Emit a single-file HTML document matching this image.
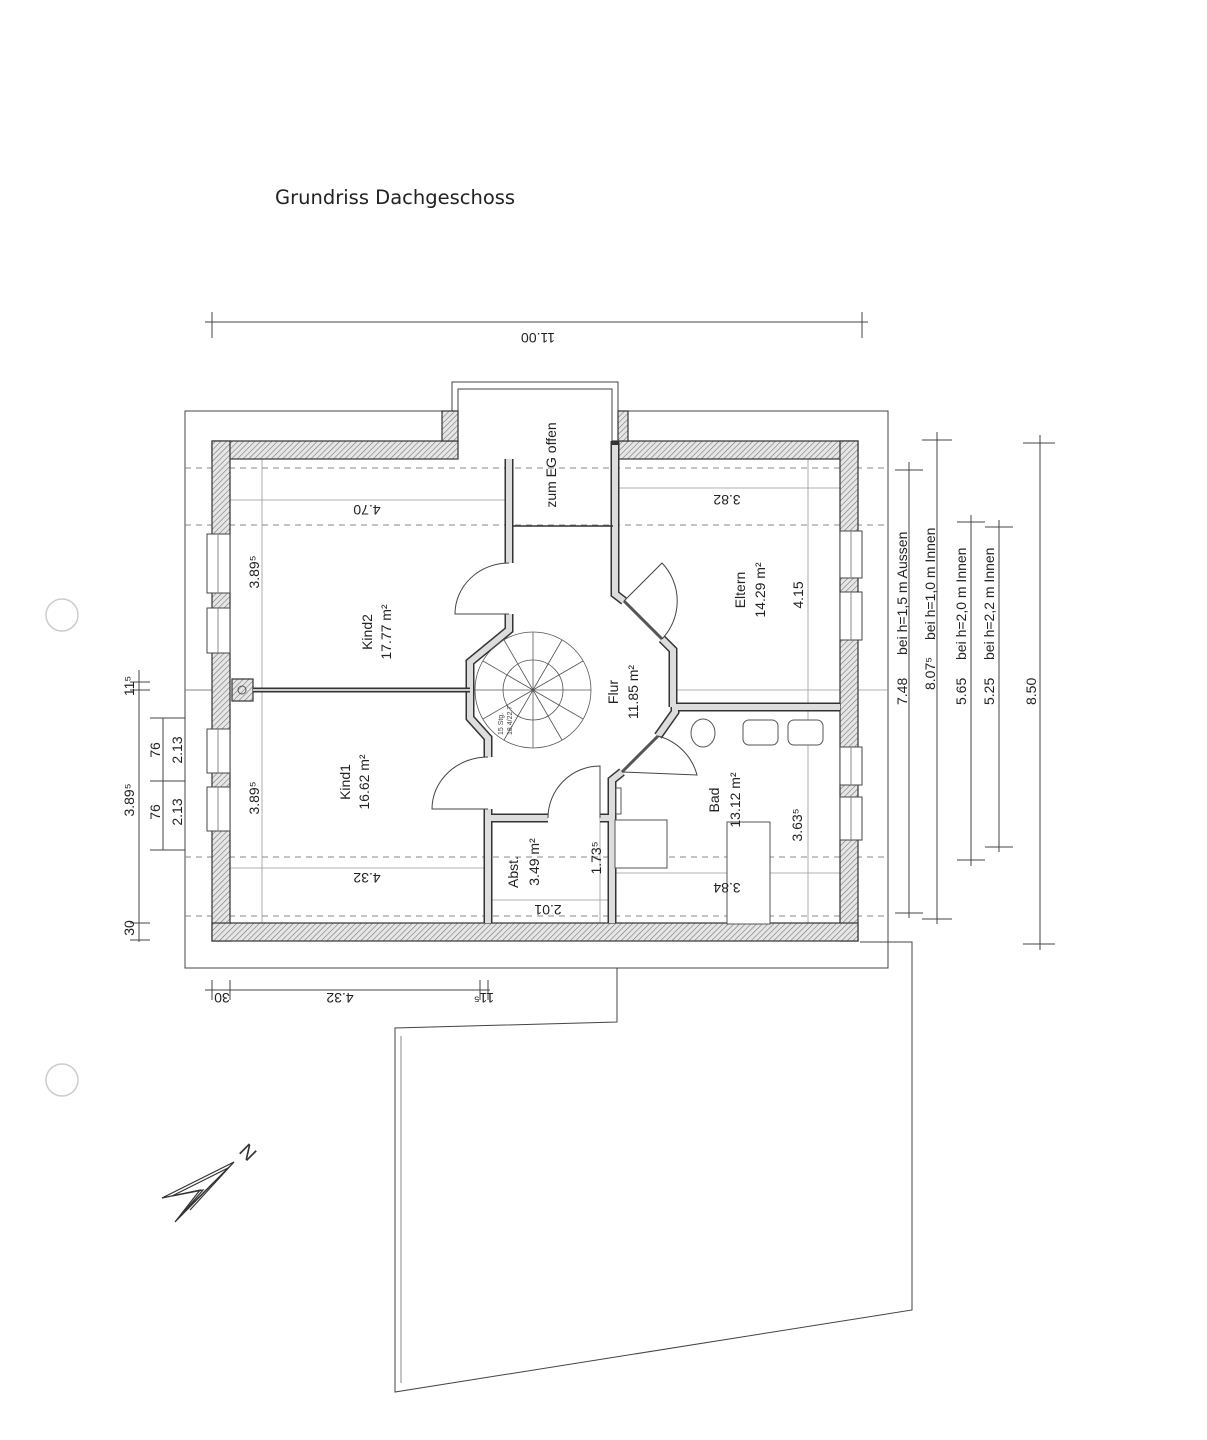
<!DOCTYPE html>
<html><head><meta charset="utf-8"><style>
html,body{margin:0;padding:0;background:#fff;}
svg{display:block;font-family:"Liberation Sans",Arial,sans-serif;}
</style></head><body>
<svg width="1207" height="1440" viewBox="0 0 1207 1440" xmlns="http://www.w3.org/2000/svg">
<defs>
<pattern id="h" width="4" height="4" patternUnits="userSpaceOnUse" patternTransform="rotate(45)">
<rect width="4" height="4" fill="#e6e6e6"/><line x1="0" y1="0" x2="0" y2="4" stroke="#777" stroke-width="1.2"/></pattern>
</defs>
<text x="275" y="204" font-family="DejaVu Sans,sans-serif" font-size="19.5" fill="#222">Grundriss Dachgeschoss</text>
<circle cx="62" cy="615" r="16" fill="none" stroke="#ccc" stroke-width="1.5"/>
<circle cx="62" cy="1080" r="16" fill="none" stroke="#ccc" stroke-width="1.5"/>

<g stroke="#444" stroke-width="1" fill="none">
<line x1="205" y1="322" x2="868" y2="322"/>
<line x1="212" y1="312" x2="212" y2="338"/><line x1="862" y1="312" x2="862" y2="338"/>
<polyline points="442,411 185,411 185,968 888,968 888,411 628,411"/>
<polyline points="452,411 452,382 618,382 618,411"/>
<polyline points="458,411 458,389 612,389 612,441"/>
<polyline points="617,968 617,1022 395,1028 395,1392 912,1310 912,942 860,942"/>
<polyline points="401,1036 401,1383" stroke="#888"/>
<line x1="139" y1="670" x2="139" y2="942"/>
<line x1="130" y1="682" x2="150" y2="682"/><line x1="130" y1="690" x2="150" y2="690"/>
<line x1="130" y1="923" x2="150" y2="923"/><line x1="130" y1="940" x2="150" y2="940"/>
<line x1="163" y1="718" x2="163" y2="850"/>
<line x1="150" y1="718" x2="185" y2="718"/><line x1="150" y1="781" x2="185" y2="781"/><line x1="150" y1="850" x2="185" y2="850"/>
<line x1="185" y1="690" x2="212" y2="690"/>
<line x1="205" y1="990" x2="490" y2="990"/>
<line x1="212" y1="980" x2="212" y2="1000"/><line x1="230" y1="980" x2="230" y2="1000"/>
<line x1="480" y1="980" x2="480" y2="1000"/><line x1="488" y1="980" x2="488" y2="1000"/>
<line x1="909" y1="462" x2="909" y2="918"/><line x1="895" y1="470" x2="923" y2="470"/><line x1="895" y1="913" x2="923" y2="913"/>
<line x1="937" y1="432" x2="937" y2="924"/><line x1="922" y1="440" x2="952" y2="440"/><line x1="922" y1="919" x2="952" y2="919"/>
<line x1="971" y1="515" x2="971" y2="866"/><line x1="957" y1="522" x2="985" y2="522"/><line x1="957" y1="860" x2="985" y2="860"/>
<line x1="999" y1="520" x2="999" y2="852"/><line x1="985" y1="527" x2="1013" y2="527"/><line x1="985" y1="847" x2="1013" y2="847"/>
<line x1="1040" y1="435" x2="1040" y2="950"/><line x1="1023" y1="443" x2="1055" y2="443"/><line x1="1023" y1="944" x2="1055" y2="944"/>
</g>
<g stroke="#888" stroke-width="1" stroke-dasharray="6,5" fill="none">
<line x1="185" y1="468" x2="888" y2="468"/>
<line x1="185" y1="525" x2="888" y2="525"/>
<line x1="185" y1="857" x2="888" y2="857"/>
<line x1="185" y1="916" x2="888" y2="916"/>
</g>
<g stroke="#999" stroke-width="0.8" fill="none">
<line x1="230" y1="500" x2="509" y2="500"/>
<line x1="618" y1="488" x2="840" y2="488"/>
<line x1="230" y1="868" x2="488" y2="868"/>
<line x1="615" y1="873" x2="840" y2="873"/>
<line x1="262" y1="459" x2="262" y2="923"/>
<line x1="808" y1="459" x2="808" y2="923"/>
<line x1="600" y1="818" x2="600" y2="923"/>
<line x1="488" y1="900" x2="612" y2="900"/>
<line x1="185" y1="690" x2="230" y2="690"/>
<line x1="675" y1="690" x2="888" y2="690"/>
</g>
<g fill="url(#h)" stroke="#333" stroke-width="1.2">
<rect x="212" y="441" width="246" height="18"/>
<rect x="442" y="411" width="16" height="30"/>
<rect x="612" y="441" width="246" height="18"/>
<rect x="618" y="411" width="10" height="30"/>
<rect x="212" y="441" width="18" height="500"/>
<rect x="840" y="441" width="18" height="500"/>
<rect x="212" y="923" width="646" height="18"/>
<rect x="232" y="679" width="21" height="22"/>
</g>
<circle cx="242" cy="690" r="4" fill="none" stroke="#555"/>
<g fill="#fff" stroke="#444" stroke-width="1">
<rect x="207" y="534" width="23" height="59"/><rect x="207" y="608" width="23" height="45"/>
<rect x="207" y="729" width="23" height="44"/><rect x="207" y="787" width="23" height="44"/>
<rect x="840" y="531" width="22" height="47"/><rect x="840" y="592" width="22" height="48"/>
<rect x="840" y="747" width="22" height="38"/><rect x="840" y="797" width="22" height="43"/>
</g>
<g stroke="#888" stroke-width="1">
<line x1="218" y1="534" x2="218" y2="593"/><line x1="218" y1="608" x2="218" y2="653"/>
<line x1="218" y1="729" x2="218" y2="773"/><line x1="218" y1="787" x2="218" y2="831"/>
<line x1="851" y1="531" x2="851" y2="578"/><line x1="851" y1="592" x2="851" y2="640"/>
<line x1="851" y1="747" x2="851" y2="785"/><line x1="851" y1="797" x2="851" y2="840"/>
</g>
<g fill="none" stroke-linejoin="miter">
<g stroke="#333" stroke-width="9">
<polyline points="509,459 509,563"/>
<polyline points="509,614 509,630 470,662 470,718 488,738 488,757"/>
<polyline points="488,809 488,923"/>
<polyline points="488,818 548,818"/><polyline points="600,818 612,818 612,780 622,772"/>
<polyline points="612,780 612,923"/>
<polyline points="658,736 675,712 675,707 840,707"/>
<polyline points="615,441 615,594 624,601"/>
<polyline points="662,639 673,650 673,707"/>
</g>
<g stroke="#ddd" stroke-width="6">
<polyline points="509,459 509,563"/>
<polyline points="509,614 509,630 470,662 470,718 488,738 488,757"/>
<polyline points="488,809 488,923"/>
<polyline points="488,818 548,818"/><polyline points="600,818 612,818 612,780 622,772"/>
<polyline points="612,780 612,923"/>
<polyline points="658,736 675,712 675,707 840,707"/>
<polyline points="615,445 615,594 624,601"/>
<polyline points="662,639 673,650 673,707"/>
</g>
<line x1="253" y1="690" x2="470" y2="690" stroke="#333" stroke-width="5"/>
<line x1="253" y1="690" x2="470" y2="690" stroke="#ccc" stroke-width="2"/>
<line x1="513" y1="526" x2="613" y2="526" stroke="#333" stroke-width="1.5"/>
<line x1="624" y1="601" x2="662" y2="639" stroke="#555" stroke-width="3"/>
<line x1="622" y1="772" x2="658" y2="736" stroke="#555" stroke-width="3"/>
</g>
<g fill="none" stroke="#444" stroke-width="1">
<path d="M509,614 L455,614 A54,51 0 0 1 509,563"/>
<path d="M488,809 L432,809 A56,52 0 0 1 488,757"/>
<path d="M600,818 L600,766 A52,52 0 0 0 548,818"/>
<path d="M624,601 L662,563 A55,55 0 0 1 662,639"/>
<path d="M622,772 L697,775 A55,55 0 0 0 658,736"/>
</g>
<g fill="none" stroke="#555" stroke-width="0.8">
<circle cx="533" cy="690" r="58"/><circle cx="533" cy="690" r="30"/>
<line x1="533" y1="690" x2="591" y2="690"/><line x1="533" y1="690" x2="583" y2="661"/><line x1="533" y1="690" x2="562" y2="640"/>
<line x1="533" y1="690" x2="533" y2="632"/><line x1="533" y1="690" x2="504" y2="640"/><line x1="533" y1="690" x2="483" y2="661"/>
<line x1="533" y1="690" x2="475" y2="690"/><line x1="533" y1="690" x2="483" y2="719"/><line x1="533" y1="690" x2="504" y2="740"/>
<line x1="533" y1="690" x2="533" y2="748"/><line x1="533" y1="690" x2="562" y2="740"/><line x1="533" y1="690" x2="583" y2="719"/>
</g>
<g fill="#fff" stroke="#555" stroke-width="1">
<ellipse cx="703" cy="733" rx="12" ry="14"/>
<rect x="743" y="720" width="35" height="25" rx="6"/>
<rect x="788" y="720" width="35" height="25" rx="6"/>
<rect x="727" y="822" width="43" height="102"/>
<rect x="615" y="820" width="52" height="48"/>
<rect x="616" y="788" width="5" height="26"/>
</g>
<g font-size="14" fill="#222" text-anchor="middle">
<text transform="translate(372,632) rotate(-90)">Kind2</text>
<text transform="translate(391,632) rotate(-90)">17.77 m²</text>
<text transform="translate(350,782) rotate(-90)">Kind1</text>
<text transform="translate(369,782) rotate(-90)">16.62 m²</text>
<text transform="translate(618,692) rotate(-90)">Flur</text>
<text transform="translate(638,692) rotate(-90)">11.85 m²</text>
<text transform="translate(745,590) rotate(-90)">Eltern</text>
<text transform="translate(765,590) rotate(-90)">14.29 m²</text>
<text transform="translate(719,800) rotate(-90)">Bad</text>
<text transform="translate(740,800) rotate(-90)">13.12 m²</text>
<text transform="translate(518,872) rotate(-90)">Abst.</text>
<text transform="translate(539,862) rotate(-90)">3.49 m²</text>
<text transform="translate(556,465) rotate(-90)">zum EG offen</text>
<text transform="translate(803,595) rotate(-90)">4.15</text>
<text transform="translate(802,825) rotate(-90)">3.63⁵</text>
<text transform="translate(601,858) rotate(-90)">1.73⁵</text>
<text transform="translate(259,572) rotate(-90)">3.89⁵</text>
<text transform="translate(259,798) rotate(-90)">3.89⁵</text>
<text transform="translate(367,505) rotate(180)">4.70</text>
<text transform="translate(727,495) rotate(180)">3.82</text>
<text transform="translate(367,873) rotate(180)">4.32</text>
<text transform="translate(727,883) rotate(180)">3.84</text>
<text transform="translate(548,905) rotate(180)">2.01</text>
<text transform="translate(538,333) rotate(180)">11.00</text>
<text transform="translate(340,993) rotate(180)">4.32</text>
<text transform="translate(222,993) rotate(180)">30</text>
<text transform="translate(484,993) rotate(180)">11⁵</text>
<text transform="translate(134,800) rotate(-90)">3.89⁵</text>
<text transform="translate(134,686) rotate(-90)">11⁵</text>
<text transform="translate(134,928) rotate(-90)">30</text>
<text transform="translate(160,750) rotate(-90)">76</text>
<text transform="translate(160,812) rotate(-90)">76</text>
<text transform="translate(182,750) rotate(-90)">2.13</text>
<text transform="translate(182,812) rotate(-90)">2.13</text>
</g>
<g font-size="14" fill="#222">
<text transform="translate(907,705) rotate(-90)">7.48</text>
<text transform="translate(907,655) rotate(-90)">bei h=1,5 m Aussen</text>
<text transform="translate(935,690) rotate(-90)">8.07⁵</text>
<text transform="translate(935,640) rotate(-90)">bei h=1,0 m Innen</text>
<text transform="translate(966,705) rotate(-90)">5.65</text>
<text transform="translate(966,660) rotate(-90)">bei h=2,0 m Innen</text>
<text transform="translate(994,705) rotate(-90)">5.25</text>
<text transform="translate(994,660) rotate(-90)">bei h=2,2 m Innen</text>
<text transform="translate(1036,705) rotate(-90)">8.50</text>
</g>
<g font-size="7" fill="#444">
<text transform="translate(503,735) rotate(-90)">15 Stg.</text>
<text transform="translate(512,735) rotate(-90)">18.4/22.7</text>
</g>
<g fill="none" stroke="#333" stroke-width="1.2">
<polygon points="234,1162 162,1198 200,1190 175,1222"/>
<polygon points="228,1168 172,1196 203,1190 182,1214"/>
<line x1="234" y1="1162" x2="190" y2="1210"/>
</g>
<text transform="translate(238,1152) rotate(45)" font-size="20" fill="#333">N</text>
</svg>
</body></html>
